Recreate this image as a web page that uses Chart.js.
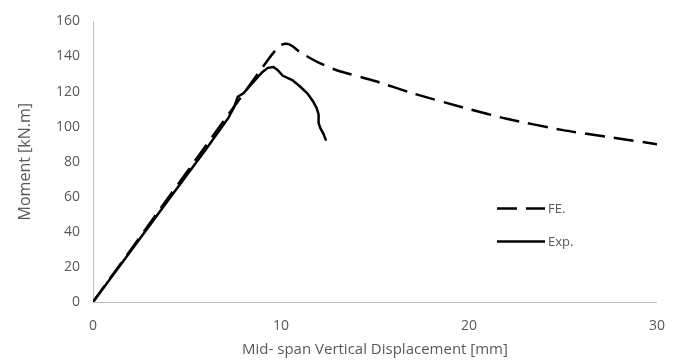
<!DOCTYPE html>
<html>
<head>
<meta charset="utf-8">
<script src="https://cdn.jsdelivr.net/npm/chart.js@4/dist/chart.umd.min.js"></script>
<style>
  html, body { margin: 0; padding: 0; background: #fff; }
  #wrap { width: 681px; height: 363px; }
</style>
</head>
<body>
<div id="wrap"><canvas id="momentChart" width="681" height="363"></canvas></div>
<script>
// FE. curve (displacement mm, moment kN.m)
const feX = [0, 9.3, 9.7, 10.0, 10.3, 10.6, 11, 12, 13, 15, 17, 20, 22, 25, 27.5, 30];
const feY = [0, 138, 143.5, 146.5, 147.3, 146, 142.5, 136.5, 132, 126, 119, 110, 104.5, 98, 94, 90];

// Exp. curve
const expX = [0, 2, 4, 6, 7.2, 7.5, 7.7, 8, 8.5, 9, 9.3, 9.6, 9.8, 10.1, 10.6, 11, 11.4, 11.7, 11.9, 12.0, 12.0, 12.1, 12.25, 12.4];
const expY = [0, 29, 58, 87, 105, 111, 117, 119, 125, 131, 133.5, 134, 132.5, 129, 126.5, 123, 119, 114.5, 110.5, 107, 102, 99, 96, 92];

const xTicks = [0, 10, 20, 30];
const yTicks = [0, 20, 40, 60, 80, 100, 120, 140, 160];

const seriesNames = ['FE.', 'Exp.'];

const toPoints = (xs, ys) => xs.map((x, i) => ({ x: x, y: ys[i] }));

const textColor = '#595959';
const fontFam = "'Open Sans', 'Liberation Sans', sans-serif";

// legend drawn inside the plot, like the original figure
const insideLegend = {
    id: 'insideLegend',
    afterDraw(chart) {
        const ctx = chart.ctx;
        const area = chart.chartArea;
        const x0 = area.left + 404;
        const rows = [area.top + 187, area.top + 220];
        ctx.save();
        chart.data.datasets.forEach((ds, i) => {
            ctx.strokeStyle = ds.borderColor;
            ctx.lineWidth = ds.borderWidth;
            ctx.setLineDash(ds.borderDash || []);
            ctx.beginPath();
            ctx.moveTo(x0, rows[i]);
            ctx.lineTo(x0 + 48, rows[i]);
            ctx.stroke();
            ctx.setLineDash([]);
            ctx.fillStyle = textColor;
            ctx.font = '13px ' + fontFam;
            ctx.textBaseline = 'middle';
            ctx.fillText(seriesNames[i], x0 + 51, rows[i] + 1);
        });
        ctx.restore();
    }
};

new Chart(document.getElementById('momentChart'), {
    type: 'scatter',
    data: {
        datasets: [
            {
                label: seriesNames[0],
                data: toPoints(feX, feY),
                showLine: true,
                borderColor: '#000',
                borderWidth: 2.5,
                borderDash: [20, 9],
                pointRadius: 0,
                tension: 0.2
            },
            {
                label: seriesNames[1],
                data: toPoints(expX, expY),
                showLine: true,
                borderColor: '#000',
                borderWidth: 2.5,
                pointRadius: 0,
                tension: 0
            }
        ]
    },
    options: {
        responsive: false,
        animation: false,
        layout: { padding: { top: 17, right: 22, left: 12, bottom: 0 } },
        plugins: {
            legend: { display: false },
            tooltip: { enabled: false }
        },
        scales: {
            x: {
                type: 'linear',
                min: 0,
                max: 30,
                afterBuildTicks: (axis) => { axis.ticks = xTicks.map(v => ({ value: v })); },
                afterFit: (axis) => { axis.height = 61; },
                grid: { display: false, drawTicks: false },
                border: { display: true, color: '#bfbfbf', width: 1 },
                ticks: { color: textColor, font: { size: 14, family: fontFam }, padding: 16, maxRotation: 0 },
                title: {
                    display: true,
                    text: 'Mid- span Vertical Displacement [mm]',
                    color: textColor,
                    font: { size: 15, family: fontFam },
                    padding: { top: 0 }
                }
            },
            y: {
                min: 0,
                max: 160,
                afterBuildTicks: (axis) => { axis.ticks = yTicks.map(v => ({ value: v })); },
                afterFit: (axis) => { axis.width = 81; },
                grid: { display: false, drawTicks: false },
                border: { display: true, color: '#bfbfbf', width: 1 },
                ticks: { color: textColor, font: { size: 14, family: fontFam }, padding: 13 },
                title: {
                    display: true,
                    text: 'Moment [kN.m]',
                    color: textColor,
                    font: { size: 16, family: fontFam },
                    padding: { bottom: 0 }
                }
            }
        }
    },
    plugins: [insideLegend]
});
</script>
</body>
</html>
